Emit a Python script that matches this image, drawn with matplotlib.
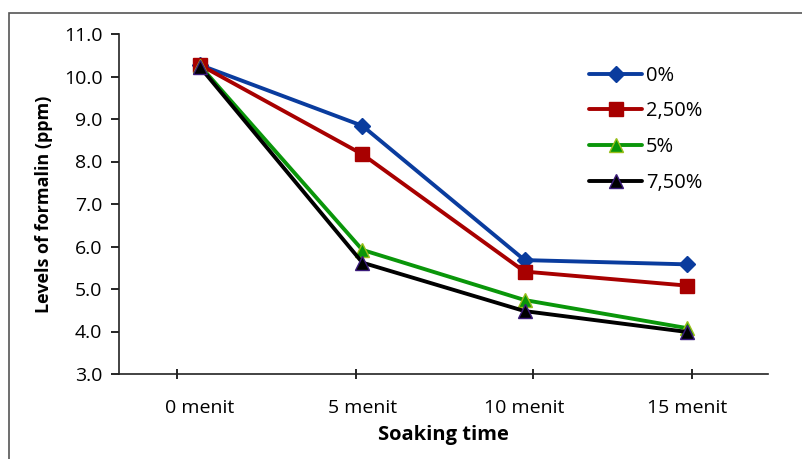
import matplotlib
matplotlib.use("Agg")
import matplotlib.pyplot as plt
from matplotlib.patches import Rectangle

categories = ["0 menit", "5 menit", "10 menit", "15 menit"]
series_names = ["0%", "2,50%", "5%", "7,50%"]
s0 = [10.27, 8.84, 5.68, 5.58]
s25 = [10.27, 8.17, 5.41, 5.08]
s5 = [10.25, 5.92, 4.74, 4.08]
s75 = [10.22, 5.62, 4.48, 3.99]
yticks = [3.0, 4.0, 5.0, 6.0, 7.0, 8.0, 9.0, 10.0, 11.0]
xtick_marks = [0.36, 1.46, 2.55, 3.53]

plt.rcParams['font.family'] = ['Open Sans', 'DejaVu Sans']

fig = plt.figure(figsize=(8.03, 4.59), dpi=100)
ax = fig.add_axes([119/803, 1-374/459, (768-119)/803, (374-34)/459])

fig.patches.append(Rectangle((9/803, -0.05), 1.0, 1-13/459+0.05, transform=fig.transFigure,
                             fill=False, edgecolor="#555555", linewidth=1.2))

x = [i + 0.5 for i in range(len(categories))]
styles = [
    (s0, "#0A3C9E", "D", "#0A3C9E", 8.5),
    (s25, "#A80000", "s", "#A80000", 10),
    (s5, "#0A960A", "^", "#9ABF1A", 10.5),
    (s75, "#000000", "^", "#3A1A7A", 10.5),
]
for (vals, col, mk, ec, ms), name in zip(styles, series_names):
    ax.plot(x, vals, color=col, linewidth=2.8, marker=mk, markersize=ms,
            markerfacecolor=col, markeredgecolor=ec, markeredgewidth=1.0,
            label=name, solid_joinstyle="miter", solid_capstyle="round")

ax.set_xlim(0, 4)
ax.set_ylim(3.0, 11.0)
ax.set_yticks(yticks)
ax.set_yticklabels([f"{v:.1f}" for v in yticks])
ax.set_xticks(x)
ax.set_xticklabels(categories)
ax.tick_params(axis="x", length=0, pad=18, labelsize=14)
ax.set_xticks(xtick_marks, minor=True)
ax.tick_params(axis="x", which="minor", direction="inout", length=7, width=1.2)
ax.tick_params(axis="y", direction="out", length=6, width=1.2, labelsize=14, pad=6)

for s in ["top", "right"]:
    ax.spines[s].set_visible(False)
for s in ["left", "bottom"]:
    ax.spines[s].set_linewidth(1.2)
    ax.spines[s].set_color("#222222")

ax.set_ylabel("Levels of formalin (ppm)", fontsize=13, fontweight="bold", labelpad=8)
ax.set_xlabel("Soaking time", fontsize=14.5, fontweight="bold", labelpad=6)

leg = ax.legend(loc="upper left", bbox_to_anchor=(0.697, 0.96), frameon=False,
                fontsize=14.5, handlelength=2.6, labelspacing=0.78, handletextpad=0.2)

fig.savefig("out.png", dpi=100)
